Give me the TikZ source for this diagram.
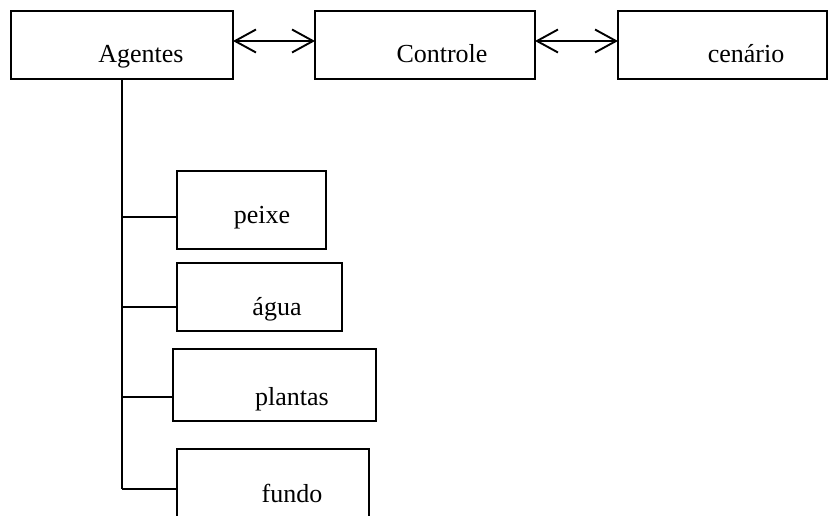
\documentclass[tikz,border=0pt]{standalone}
\usepackage{fontspec}
\setmainfont{Liberation Serif}
\usetikzlibrary{arrows.meta}
\begin{document}
\begin{tikzpicture}[x=1pt,y=-1pt,
  box/.style={draw=black, line width=1.9pt, rectangle, inner sep=0pt, outer sep=0pt},
  txt/.style={anchor=base, inner sep=0pt, font=\fontsize{26}{29}\selectfont},
  link/.style={line width=1.9pt},
  dbl/.style={line width=1.9pt, {Straight Barb[length=21pt,width=23pt]}-{Straight Barb[length=21pt,width=23pt]}}]
\useasboundingbox (0,0) rectangle (828,516);

% top row
\node[box, minimum width=222pt, minimum height=68pt] (agentes) at (122,45) {};
\node[box, minimum width=220pt, minimum height=68pt] (controle) at (425,45) {};
\node[box, minimum width=209pt, minimum height=68pt] (cenario) at (722.5,45) {};
\node[txt] (tagentes) at (141,63) {Agentes};
\node[txt] (tcontrole) at (442,63) {Controle};
\node[txt] (tcenario) at (746,63) {cenário};

\draw[dbl] ([yshift=4pt]agentes.east) -- ([yshift=4pt]controle.west);
\draw[dbl] ([yshift=4pt]controle.east) -- ([yshift=4pt]cenario.west);

% agent kinds
\node[box, minimum width=149pt, minimum height=78pt] (peixe) at (251.5,210) {};
\node[box, minimum width=165pt, minimum height=68pt] (agua) at (259.5,297) {};
\node[box, minimum width=203pt, minimum height=72pt] (plantas) at (274.5,385) {};
\node[box, minimum width=192pt, minimum height=91pt] (fundo) at (273,494.5) {};
\node[txt] (tpeixe) at (262,223) {peixe};
\node[txt] (tagua) at (277,315) {água};
\node[txt] (tplantas) at (292,405) {plantas};
\node[txt] (tfundo) at (292,502) {fundo};

% tree connectors
\coordinate (j1) at (122,217);
\coordinate (j2) at (122,307);
\coordinate (j3) at (122,397);
\coordinate (j4) at (122,489);
\draw[link] (agentes.south) -- (j4);
\draw[link] (j1) -- (j1 -| peixe.west);
\draw[link] (j2) -- (j2 -| agua.west);
\draw[link] (j3) -- (j3 -| plantas.west);
\draw[link] (j4) -- (j4 -| fundo.west);
\end{tikzpicture}
\end{document}
